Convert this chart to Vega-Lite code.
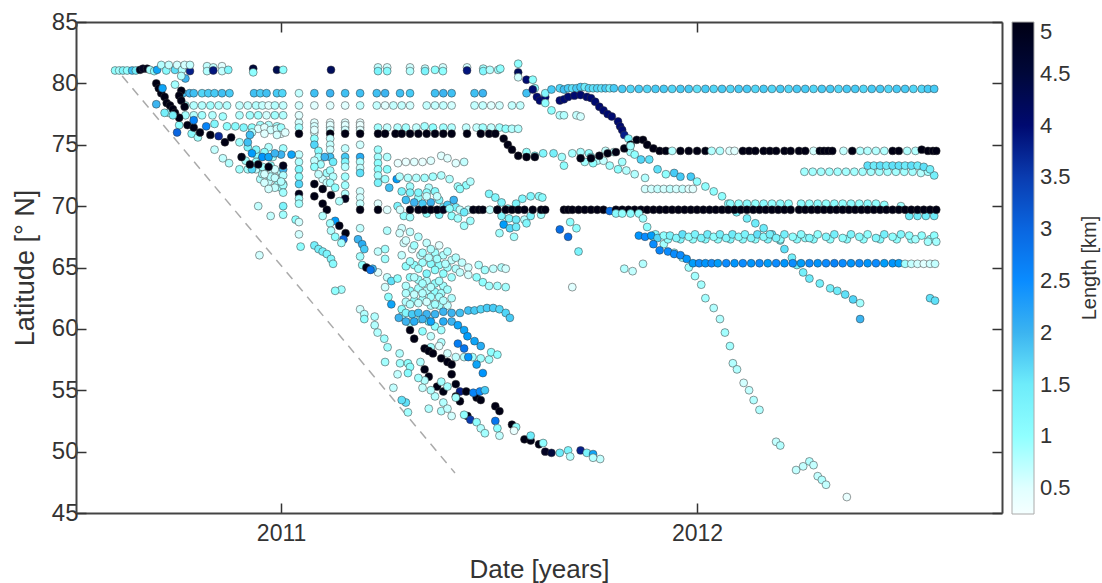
{"$schema":"https://vega.github.io/schema/vega-lite/v6.json","width":926,"height":491,"padding":{"left":76,"top":22,"right":100,"bottom":70},"autosize":{"type":"none"},"background":"white",
"config":{"view":{"stroke":null},"font":"Liberation Sans"},
"resolve":{"axis":{"x":"independent","y":"independent"}},
"layer":[
{"data":{"values":[{"t":2010.618,"lat":80.6},{"t":2011.418,"lat":48.26}]},"mark":{"type":"line","stroke":"#aaaaaa","strokeWidth":1.5,"strokeDash":[9,7]},
"encoding":{"x":{"field":"t","type":"quantitative","scale":{"domain":[2010.507,2012.733],"nice":false,"zero":false},"axis":{"orient":"bottom","values":[2011,2012],"format":"d","title":"Date [years]","titleFontSize":26,"titleFontWeight":"normal","titleColor":"#333","titlePadding":11,"labelFontSize":23,"labelColor":"#333","labelPadding":19,"tickSize":-10,"tickColor":"#333","tickWidth":1.5,"domainColor":"#444","domainWidth":2,"grid":false}},
"y":{"field":"lat","type":"quantitative","scale":{"domain":[45,85],"nice":false,"zero":false},"axis":{"orient":"left","values":[45,50,55,60,65,70,75,80,85],"title":"Latitude [° N]","titleFontSize":27,"titleFontWeight":"normal","titleColor":"#333","titlePadding":12,"labelFontSize":24,"labelColor":"#333","labelPadding":8,"tickSize":-10,"tickColor":"#333","tickWidth":1.5,"domainColor":"#444","domainWidth":2,"grid":false}}}},
{"data":{"values":[{"t":2011,"lat":45},{"t":2012,"lat":85}]},"mark":{"type":"point","opacity":0},
"encoding":{"x":{"field":"t","type":"quantitative","axis":{"orient":"top","values":[2011,2012],"labels":false,"title":null,"tickSize":-10,"tickColor":"#333","tickWidth":1.5,"domainColor":"#444","domainWidth":2,"grid":false}},
"y":{"field":"lat","type":"quantitative","axis":{"orient":"right","values":[45,50,55,60,65,70,75,80,85],"labels":false,"title":"Length [km]","titleAngle":-90,"titleFontSize":20,"titleFontWeight":"normal","titleColor":"#333","titlePadding":97,"tickSize":-10,"tickColor":"#333","tickWidth":1.5,"domainColor":"#444","domainWidth":2,"grid":false}}}},
{"data":{"values":[
{"t":2011.29,"lat":68.2,"len":0.6},{"t":2011.31,"lat":67.9,"len":0.7},{"t":2011.33,"lat":67.5,"len":0.8},{"t":2011.35,"lat":67.0,"len":0.7},{"t":2011.37,"lat":66.2,"len":0.9},{"t":2011.39,"lat":66.0,"len":0.8},{"t":2011.41,"lat":65.6,"len":0.7},{"t":2011.3,"lat":65.1,"len":1.0},{"t":2011.32,"lat":65.2,"len":1.0},{"t":2011.34,"lat":65.4,"len":0.9},{"t":2011.36,"lat":65.3,"len":1.1},{"t":2011.38,"lat":65.2,"len":1.0},{"t":2011.4,"lat":65.0,"len":0.9},{"t":2011.42,"lat":64.9,"len":0.8},{"t":2011.31,"lat":64.2,"len":1.0},{"t":2011.33,"lat":64.0,"len":0.9},{"t":2011.35,"lat":63.9,"len":0.8},{"t":2011.37,"lat":63.7,"len":1.0},{"t":2011.39,"lat":63.5,"len":0.9},{"t":2011.31,"lat":63.1,"len":1.0},{"t":2011.33,"lat":63.3,"len":0.9},{"t":2011.35,"lat":63.1,"len":0.8},{"t":2011.37,"lat":63.0,"len":1.0},{"t":2011.385,"lat":62.9,"len":0.9},{"t":2011.3,"lat":62.2,"len":0.8},{"t":2011.32,"lat":62.3,"len":1.0},{"t":2011.34,"lat":62.4,"len":0.9},{"t":2011.36,"lat":61.9,"len":0.8},{"t":2011.38,"lat":61.9,"len":0.9},{"t":2011.4,"lat":61.9,"len":0.7},{"t":2011.295,"lat":67.0,"len":0.6},{"t":2011.315,"lat":66.5,"len":0.5},{"t":2011.335,"lat":66.0,"len":0.7},{"t":2011.355,"lat":65.8,"len":0.8},{"t":2011.375,"lat":65.7,"len":0.9},{"t":2011.395,"lat":65.3,"len":0.8},{"t":2011.28,"lat":70.0,"len":1.3},{"t":2011.295,"lat":69.2,"len":1.0},{"t":2011.31,"lat":69.1,"len":0.9},{"t":2011.33,"lat":70.7,"len":1.0},{"t":2011.355,"lat":71.5,"len":0.8},{"t":2011.31,"lat":71.6,"len":0.9},{"t":2011.39,"lat":69.9,"len":1.3},{"t":2011.42,"lat":69.9,"len":1.4},{"t":2011.35,"lat":69.4,"len":1.0},{"t":2011.38,"lat":69.3,"len":1.2},{"t":2011.41,"lat":69.2,"len":1.0},
{"t":2011.043,"lat":76.8,"len":0.6},{"t":2011.08,"lat":76.8,"len":0.5},{"t":2011.118,"lat":76.8,"len":0.4},{"t":2011.154,"lat":76.8,"len":0.5},{"t":2011.19,"lat":76.8,"len":0.4},{"t":2011.08,"lat":76.0,"len":0.5},{"t":2011.118,"lat":76.4,"len":0.6},{"t":2011.154,"lat":76.4,"len":0.6},{"t":2011.19,"lat":76.4,"len":0.5},{"t":2010.95,"lat":76.6,"len":0.9},{"t":2010.97,"lat":76.6,"len":0.8},{"t":2010.99,"lat":76.5,"len":0.9},{"t":2011.0,"lat":75.9,"len":0.5},
{"t":2010.94,"lat":73.0,"len":0.7},{"t":2010.96,"lat":73.0,"len":0.9},{"t":2010.98,"lat":72.8,"len":0.7},{"t":2011.0,"lat":72.8,"len":0.8},{"t":2010.95,"lat":72.2,"len":0.8},{"t":2010.97,"lat":72.0,"len":0.7},{"t":2010.99,"lat":72.2,"len":0.6},{"t":2011.005,"lat":71.8,"len":0.8},{"t":2010.94,"lat":74.2,"len":1.0},{"t":2010.97,"lat":74.8,"len":0.8},{"t":2011.005,"lat":74.7,"len":0.9},{"t":2011.095,"lat":73.4,"len":0.9},{"t":2011.1,"lat":72.2,"len":0.6},{"t":2011.11,"lat":71.9,"len":0.7},{"t":2011.09,"lat":72.6,"len":0.7},
{"t":2010.601,"lat":81.05,"len":1.0},{"t":2010.611,"lat":81.05,"len":0.9},{"t":2010.62,"lat":81.05,"len":1.2},{"t":2010.63,"lat":81.05,"len":1.0},{"t":2010.642,"lat":81.05,"len":1.9},{"t":2010.651,"lat":81.05,"len":1.5},{"t":2010.661,"lat":81.1,"len":4.9},{"t":2010.668,"lat":81.2,"len":4.8},{"t":2010.678,"lat":81.2,"len":4.9},{"t":2010.685,"lat":81.1,"len":0.9},{"t":2010.695,"lat":81.0,"len":1.0},{"t":2010.702,"lat":81.1,"len":2.2},{"t":2010.712,"lat":81.5,"len":0.8},{"t":2010.724,"lat":81.05,"len":1.1},{"t":2010.73,"lat":81.5,"len":0.7},{"t":2010.745,"lat":81.1,"len":1.6},{"t":2010.75,"lat":81.5,"len":0.6},{"t":2010.762,"lat":81.1,"len":0.8},{"t":2010.768,"lat":81.5,"len":0.6},{"t":2010.781,"lat":81.0,"len":3.8},{"t":2010.781,"lat":81.5,"len":0.7},{"t":2010.77,"lat":80.4,"len":2.0},{"t":2010.76,"lat":80.6,"len":0.8},
{"t":2010.822,"lat":81.4,"len":0.7},{"t":2010.822,"lat":81.0,"len":0.8},{"t":2010.837,"lat":81.3,"len":0.7},{"t":2010.837,"lat":81.05,"len":3.9},{"t":2010.858,"lat":81.4,"len":0.5},{"t":2010.858,"lat":81.0,"len":0.7},{"t":2010.873,"lat":81.1,"len":1.2},{"t":2010.933,"lat":81.2,"len":4.5},{"t":2010.933,"lat":80.9,"len":1.0},{"t":2010.99,"lat":81.1,"len":4.3},{"t":2011.005,"lat":81.1,"len":1.0},{"t":2011.12,"lat":81.1,"len":4.2},{"t":2011.233,"lat":81.3,"len":0.7},{"t":2011.233,"lat":81.0,"len":1.3},{"t":2011.255,"lat":81.3,"len":0.6},{"t":2011.255,"lat":81.0,"len":1.1},{"t":2011.31,"lat":81.3,"len":0.6},{"t":2011.31,"lat":81.0,"len":0.8},{"t":2011.346,"lat":81.2,"len":0.7},{"t":2011.346,"lat":81.0,"len":1.3},{"t":2011.37,"lat":81.1,"len":1.0},{"t":2011.389,"lat":81.3,"len":0.6},{"t":2011.389,"lat":81.0,"len":1.0},{"t":2011.447,"lat":81.3,"len":0.6},{"t":2011.447,"lat":81.05,"len":3.9},{"t":2011.486,"lat":81.2,"len":0.9},{"t":2011.486,"lat":81.0,"len":1.2},{"t":2011.502,"lat":81.1,"len":0.8},{"t":2011.522,"lat":81.1,"len":0.9},{"t":2011.57,"lat":81.6,"len":1.0},{"t":2011.57,"lat":80.9,"len":4.2},{"t":2011.57,"lat":80.5,"len":0.6},{"t":2011.527,"lat":81.2,"len":1.0},
{"t":2010.764,"lat":79.2,"len":1.9},{"t":2010.78,"lat":79.2,"len":2.0},{"t":2010.79,"lat":79.2,"len":1.9},{"t":2010.81,"lat":79.2,"len":1.7},{"t":2010.825,"lat":79.2,"len":1.8},{"t":2010.84,"lat":79.2,"len":1.8},{"t":2010.858,"lat":79.2,"len":1.9},{"t":2010.876,"lat":79.2,"len":1.8},{"t":2010.935,"lat":79.2,"len":1.9},{"t":2010.95,"lat":79.2,"len":1.8},{"t":2010.965,"lat":79.2,"len":1.9},{"t":2010.99,"lat":79.2,"len":1.8},{"t":2011.003,"lat":79.2,"len":1.7},{"t":2011.043,"lat":79.2,"len":0.7},{"t":2011.08,"lat":79.2,"len":1.9},{"t":2011.118,"lat":79.2,"len":2.0},{"t":2011.154,"lat":79.2,"len":1.9},{"t":2011.19,"lat":79.2,"len":1.9},{"t":2011.23,"lat":79.2,"len":1.9},{"t":2011.25,"lat":79.2,"len":2.0},{"t":2011.286,"lat":79.2,"len":1.9},{"t":2011.31,"lat":79.2,"len":1.8},{"t":2011.37,"lat":79.2,"len":1.9},{"t":2011.39,"lat":79.2,"len":2.0},{"t":2011.41,"lat":79.2,"len":1.9},{"t":2011.465,"lat":79.2,"len":1.9},{"t":2011.485,"lat":79.2,"len":2.0},
{"t":2010.77,"lat":78.2,"len":0.9},{"t":2010.79,"lat":78.2,"len":0.8},{"t":2010.81,"lat":78.2,"len":0.8},{"t":2010.83,"lat":78.2,"len":0.9},{"t":2010.85,"lat":78.2,"len":0.8},{"t":2010.87,"lat":78.2,"len":0.8},{"t":2010.9,"lat":78.2,"len":0.7},{"t":2010.92,"lat":78.2,"len":0.7},{"t":2010.94,"lat":78.2,"len":0.8},{"t":2010.955,"lat":78.2,"len":0.7},{"t":2010.97,"lat":78.2,"len":0.5},{"t":2010.985,"lat":78.2,"len":0.8},{"t":2011.005,"lat":78.2,"len":0.7},{"t":2011.043,"lat":78.2,"len":0.6},{"t":2011.08,"lat":78.2,"len":0.5},{"t":2011.118,"lat":78.2,"len":0.5},{"t":2011.154,"lat":78.2,"len":0.5},{"t":2011.19,"lat":78.2,"len":0.7},{"t":2011.23,"lat":78.2,"len":0.7},{"t":2011.25,"lat":78.2,"len":0.5},{"t":2011.27,"lat":78.2,"len":0.7},{"t":2011.29,"lat":78.2,"len":0.7},{"t":2011.31,"lat":78.2,"len":0.6},{"t":2011.35,"lat":78.2,"len":0.7},{"t":2011.37,"lat":78.2,"len":0.7},{"t":2011.39,"lat":78.2,"len":0.7},{"t":2011.41,"lat":78.2,"len":0.6},{"t":2011.465,"lat":78.2,"len":0.7},{"t":2011.485,"lat":78.2,"len":0.7},{"t":2011.505,"lat":78.2,"len":0.5},{"t":2011.525,"lat":78.2,"len":0.6},{"t":2011.555,"lat":78.2,"len":0.7},{"t":2011.575,"lat":78.2,"len":0.7},
{"t":2010.77,"lat":77.4,"len":0.9},{"t":2010.79,"lat":77.4,"len":0.8},{"t":2010.81,"lat":77.4,"len":0.9},{"t":2010.835,"lat":77.4,"len":0.8},{"t":2010.86,"lat":77.3,"len":0.9},{"t":2010.9,"lat":77.4,"len":0.8},{"t":2010.925,"lat":77.4,"len":0.9},{"t":2010.945,"lat":77.4,"len":0.9},{"t":2010.965,"lat":77.4,"len":0.6},{"t":2010.985,"lat":77.4,"len":0.9},{"t":2011.005,"lat":77.4,"len":0.8},{"t":2011.043,"lat":77.4,"len":0.5},
{"t":2010.84,"lat":76.7,"len":1.2},{"t":2010.87,"lat":76.5,"len":1.0},{"t":2010.89,"lat":76.5,"len":1.1},{"t":2010.91,"lat":76.4,"len":1.2},{"t":2010.93,"lat":76.4,"len":1.0},{"t":2010.945,"lat":76.3,"len":0.5},{"t":2010.96,"lat":76.4,"len":0.5},{"t":2010.975,"lat":76.2,"len":0.6},{"t":2010.99,"lat":76.3,"len":0.6},{"t":2011.0,"lat":76.4,"len":0.9},{"t":2011.01,"lat":76.0,"len":0.5},{"t":2010.93,"lat":76.0,"len":0.8},{"t":2010.96,"lat":75.9,"len":0.5},{"t":2010.99,"lat":75.8,"len":0.6},{"t":2011.043,"lat":76.4,"len":0.9},{"t":2011.08,"lat":76.5,"len":0.6},{"t":2011.08,"lat":76.2,"len":0.5},{"t":2011.118,"lat":76.6,"len":0.5},{"t":2011.118,"lat":76.2,"len":0.6},{"t":2011.154,"lat":76.6,"len":0.5},{"t":2011.154,"lat":76.2,"len":0.6},{"t":2011.19,"lat":76.6,"len":0.4},{"t":2011.19,"lat":76.2,"len":0.5},{"t":2011.233,"lat":76.4,"len":0.9},{"t":2011.255,"lat":76.4,"len":0.7},{"t":2011.28,"lat":76.4,"len":0.8},{"t":2011.3,"lat":76.4,"len":0.9},{"t":2011.325,"lat":76.4,"len":0.7},{"t":2011.345,"lat":76.5,"len":0.9},{"t":2011.365,"lat":76.4,"len":1.0},{"t":2011.39,"lat":76.4,"len":0.9},{"t":2011.41,"lat":76.4,"len":0.8},{"t":2011.445,"lat":76.4,"len":0.7},{"t":2011.47,"lat":76.4,"len":0.7},{"t":2011.485,"lat":76.4,"len":0.9},{"t":2011.505,"lat":76.4,"len":0.7},{"t":2011.525,"lat":76.4,"len":0.9},{"t":2011.54,"lat":76.3,"len":1.0},{"t":2011.555,"lat":76.3,"len":0.8},{"t":2011.57,"lat":76.3,"len":0.8},
{"t":2010.73,"lat":77.6,"len":0.9},{"t":2010.755,"lat":76.6,"len":1.0},{"t":2010.785,"lat":75.9,"len":1.1},{"t":2010.8,"lat":75.6,"len":0.9},{"t":2010.84,"lat":74.6,"len":0.7},{"t":2010.86,"lat":73.9,"len":0.7},{"t":2010.875,"lat":73.5,"len":0.8},{"t":2010.9,"lat":73.0,"len":0.9},{"t":2010.92,"lat":73.0,"len":0.9},{"t":2010.915,"lat":73.7,"len":0.9},{"t":2010.94,"lat":73.6,"len":1.0},{"t":2010.93,"lat":73.0,"len":1.7},{"t":2010.955,"lat":72.6,"len":0.9},{"t":2010.975,"lat":72.4,"len":0.8},{"t":2010.99,"lat":71.7,"len":0.9},{"t":2011.0,"lat":71.5,"len":0.9},{"t":2011.005,"lat":71.7,"len":0.9},
{"t":2010.945,"lat":70.0,"len":0.7},{"t":2010.975,"lat":69.2,"len":0.7},{"t":2011.005,"lat":70.0,"len":1.3},{"t":2011.005,"lat":69.3,"len":0.9},{"t":2011.035,"lat":68.9,"len":1.0},{"t":2011.043,"lat":68.7,"len":0.6},{"t":2011.043,"lat":67.7,"len":0.6},
{"t":2010.9,"lat":75.2,"len":0.9},{"t":2010.92,"lat":74.8,"len":1.3},{"t":2010.94,"lat":74.6,"len":1.2},{"t":2010.96,"lat":74.4,"len":1.1},{"t":2010.98,"lat":74.0,"len":0.9},{"t":2011.0,"lat":74.2,"len":2.0},{"t":2010.93,"lat":74.3,"len":2.3},{"t":2010.955,"lat":74.0,"len":2.4},{"t":2010.97,"lat":74.0,"len":2.2},{"t":2010.985,"lat":74.3,"len":2.0},{"t":2010.955,"lat":73.2,"len":0.9},{"t":2010.975,"lat":73.3,"len":1.0},{"t":2010.985,"lat":73.0,"len":0.6},{"t":2011.005,"lat":73.0,"len":2.0},{"t":2010.96,"lat":72.6,"len":0.6},{"t":2010.985,"lat":72.3,"len":0.7},{"t":2011.005,"lat":72.5,"len":0.8},{"t":2010.96,"lat":71.9,"len":0.6},{"t":2010.985,"lat":71.5,"len":0.7},{"t":2011.005,"lat":71.1,"len":0.9},{"t":2010.97,"lat":71.4,"len":0.6},{"t":2011.0,"lat":72.0,"len":0.8},
{"t":2011.043,"lat":75.9,"len":5},{"t":2011.118,"lat":75.9,"len":5},{"t":2011.154,"lat":75.9,"len":5},{"t":2011.19,"lat":75.9,"len":5},{"t":2011.233,"lat":75.9,"len":5},{"t":2011.25,"lat":75.9,"len":5},{"t":2011.275,"lat":75.9,"len":5},{"t":2011.29,"lat":75.9,"len":5},{"t":2011.31,"lat":75.9,"len":5},{"t":2011.33,"lat":75.9,"len":5},{"t":2011.35,"lat":75.9,"len":5},{"t":2011.37,"lat":75.9,"len":5},{"t":2011.39,"lat":75.9,"len":5},{"t":2011.41,"lat":75.9,"len":5},{"t":2011.447,"lat":75.9,"len":5},{"t":2011.48,"lat":75.9,"len":5},{"t":2011.5,"lat":75.9,"len":5},{"t":2011.515,"lat":75.9,"len":5},
{"t":2011.043,"lat":74.2,"len":0.7},{"t":2011.043,"lat":73.6,"len":0.8},{"t":2011.043,"lat":73.0,"len":1.2},{"t":2011.043,"lat":72.4,"len":1.0},{"t":2011.043,"lat":71.8,"len":1.7},{"t":2011.043,"lat":71.0,"len":4.9},{"t":2011.043,"lat":70.6,"len":0.9},{"t":2011.043,"lat":70.2,"len":0.9},
{"t":2011.08,"lat":75.5,"len":1.0},{"t":2011.08,"lat":75.0,"len":1.7},{"t":2011.09,"lat":74.5,"len":1.1},{"t":2011.09,"lat":74.0,"len":0.9},{"t":2011.08,"lat":73.7,"len":0.7},{"t":2011.08,"lat":73.2,"len":1.0},{"t":2011.11,"lat":72.7,"len":0.9},
{"t":2011.118,"lat":75.5,"len":0.7},{"t":2011.118,"lat":75.0,"len":0.7},{"t":2011.118,"lat":74.6,"len":0.6},{"t":2011.118,"lat":74.0,"len":1.9},{"t":2011.125,"lat":73.6,"len":1.5},{"t":2011.105,"lat":74.0,"len":2.0},{"t":2011.118,"lat":72.9,"len":0.9},{"t":2011.125,"lat":72.4,"len":0.8},{"t":2011.118,"lat":71.9,"len":0.9},{"t":2011.13,"lat":71.5,"len":1.0},
{"t":2011.154,"lat":74.7,"len":0.7},{"t":2011.154,"lat":74.0,"len":1.8},{"t":2011.154,"lat":73.6,"len":1.2},{"t":2011.154,"lat":73.2,"len":0.8},{"t":2011.154,"lat":72.4,"len":0.9},{"t":2011.154,"lat":71.7,"len":0.9},{"t":2011.154,"lat":71.0,"len":0.8},{"t":2011.154,"lat":70.6,"len":4.9},{"t":2011.14,"lat":70.4,"len":0.8},
{"t":2011.19,"lat":75.0,"len":0.6},{"t":2011.19,"lat":74.0,"len":2.1},{"t":2011.19,"lat":73.6,"len":0.8},{"t":2011.19,"lat":73.1,"len":0.7},{"t":2011.19,"lat":72.7,"len":1.6},{"t":2011.19,"lat":71.2,"len":0.6},{"t":2011.19,"lat":70.7,"len":0.6},{"t":2011.19,"lat":70.2,"len":0.7},{"t":2011.19,"lat":69.7,"len":5},{"t":2011.19,"lat":68.2,"len":0.7},
{"t":2011.233,"lat":74.6,"len":0.9},{"t":2011.233,"lat":74.0,"len":0.9},{"t":2011.233,"lat":73.5,"len":1.0},{"t":2011.233,"lat":73.0,"len":1.0},{"t":2011.233,"lat":72.5,"len":0.9},{"t":2011.233,"lat":71.9,"len":1.3},{"t":2011.233,"lat":70.2,"len":0.5},{"t":2011.233,"lat":69.7,"len":5},{"t":2011.255,"lat":74.0,"len":0.8},{"t":2011.255,"lat":73.0,"len":1.0},{"t":2011.25,"lat":72.2,"len":0.9},{"t":2011.26,"lat":71.5,"len":1.9},{"t":2011.255,"lat":69.7,"len":0.5},{"t":2011.255,"lat":68.0,"len":0.8},{"t":2011.278,"lat":72.2,"len":2.3},
{"t":2011.281,"lat":73.5,"len":0.4},{"t":2011.3,"lat":73.6,"len":0.4},{"t":2011.32,"lat":73.6,"len":0.5},{"t":2011.34,"lat":73.6,"len":0.4},{"t":2011.36,"lat":73.7,"len":0.5},{"t":2011.385,"lat":74.1,"len":0.5},{"t":2011.4,"lat":73.9,"len":0.5},{"t":2011.42,"lat":73.5,"len":0.5},{"t":2011.44,"lat":73.6,"len":0.7},
{"t":2011.285,"lat":72.4,"len":0.8},{"t":2011.305,"lat":72.3,"len":0.8},{"t":2011.325,"lat":72.3,"len":0.8},{"t":2011.345,"lat":72.3,"len":0.9},{"t":2011.365,"lat":72.4,"len":0.9},{"t":2011.385,"lat":72.5,"len":0.8},{"t":2011.405,"lat":72.2,"len":0.8},{"t":2011.425,"lat":71.6,"len":0.9},{"t":2011.445,"lat":71.7,"len":1.0},{"t":2011.455,"lat":72.0,"len":0.8},{"t":2011.43,"lat":71.4,"len":1.0},
{"t":2011.29,"lat":71.2,"len":1.3},{"t":2011.31,"lat":71.1,"len":1.3},{"t":2011.33,"lat":71.1,"len":1.2},{"t":2011.35,"lat":71.1,"len":1.0},{"t":2011.37,"lat":71.2,"len":1.1},{"t":2011.3,"lat":70.5,"len":1.9},{"t":2011.32,"lat":70.3,"len":2.0},{"t":2011.34,"lat":70.2,"len":1.8},{"t":2011.36,"lat":70.3,"len":2.0},{"t":2011.38,"lat":70.5,"len":1.2},{"t":2011.4,"lat":70.1,"len":1.8},{"t":2011.415,"lat":70.5,"len":2.0},{"t":2011.35,"lat":70.8,"len":0.7},{"t":2011.375,"lat":70.8,"len":0.7},
{"t":2011.286,"lat":69.7,"len":0.6},{"t":2011.31,"lat":69.7,"len":5},{"t":2011.33,"lat":69.7,"len":5},{"t":2011.345,"lat":69.7,"len":5},{"t":2011.36,"lat":69.7,"len":5},{"t":2011.375,"lat":69.7,"len":5},{"t":2011.39,"lat":69.7,"len":4.9},{"t":2011.405,"lat":69.8,"len":1.0},{"t":2011.43,"lat":69.7,"len":0.7},{"t":2011.45,"lat":69.7,"len":0.7},{"t":2011.462,"lat":69.7,"len":5},{"t":2011.475,"lat":69.7,"len":5},{"t":2011.485,"lat":69.7,"len":5},{"t":2011.52,"lat":69.7,"len":5},{"t":2011.502,"lat":69.7,"len":0.7},{"t":2011.425,"lat":69.0,"len":0.9},{"t":2011.44,"lat":68.4,"len":0.9},{"t":2011.455,"lat":68.8,"len":0.9},{"t":2011.44,"lat":69.5,"len":1.5},
{"t":2011.285,"lat":67.8,"len":0.6},{"t":2011.3,"lat":67.2,"len":0.6},{"t":2011.32,"lat":66.8,"len":0.9},{"t":2011.34,"lat":66.2,"len":0.9},{"t":2011.36,"lat":66.5,"len":0.8},{"t":2011.38,"lat":66.8,"len":0.5},{"t":2011.4,"lat":66.3,"len":0.8},{"t":2011.42,"lat":65.8,"len":0.8},{"t":2011.435,"lat":65.4,"len":0.7},{"t":2011.45,"lat":65.0,"len":0.6},{"t":2011.29,"lat":66.0,"len":0.7},{"t":2011.31,"lat":65.5,"len":0.9},{"t":2011.33,"lat":64.9,"len":0.9},{"t":2011.35,"lat":64.5,"len":1.2},{"t":2011.37,"lat":64.8,"len":1.0},{"t":2011.39,"lat":64.5,"len":1.0},{"t":2011.41,"lat":64.2,"len":0.9},{"t":2011.43,"lat":64.6,"len":0.7},{"t":2011.45,"lat":64.4,"len":0.6},{"t":2011.3,"lat":63.5,"len":0.8},{"t":2011.32,"lat":64.2,"len":0.8},{"t":2011.34,"lat":63.7,"len":0.9},{"t":2011.36,"lat":63.4,"len":0.8},{"t":2011.38,"lat":63.9,"len":0.9},{"t":2011.3,"lat":62.9,"len":0.8},{"t":2011.32,"lat":62.8,"len":0.7},{"t":2011.34,"lat":62.9,"len":0.8},{"t":2011.36,"lat":62.6,"len":0.9},{"t":2011.38,"lat":62.6,"len":0.9},{"t":2011.4,"lat":63.2,"len":0.9},{"t":2011.41,"lat":62.5,"len":0.8},{"t":2011.31,"lat":62.0,"len":0.8},{"t":2011.33,"lat":62.1,"len":0.7},{"t":2011.35,"lat":62.2,"len":0.6},{"t":2011.37,"lat":62.0,"len":0.9},{"t":2011.39,"lat":62.3,"len":0.8},
{"t":2011.475,"lat":65.2,"len":0.8},{"t":2011.49,"lat":64.8,"len":0.9},{"t":2011.51,"lat":64.9,"len":0.7},{"t":2011.53,"lat":65.0,"len":0.8},{"t":2011.54,"lat":64.9,"len":0.6},{"t":2011.47,"lat":64.2,"len":1.0},{"t":2011.485,"lat":63.8,"len":1.0},{"t":2011.5,"lat":63.5,"len":0.9},{"t":2011.52,"lat":63.5,"len":0.9},{"t":2011.54,"lat":63.4,"len":0.9},
{"t":2011.5,"lat":71.0,"len":1.2},{"t":2011.515,"lat":70.7,"len":1.2},{"t":2011.53,"lat":70.3,"len":1.3},{"t":2011.545,"lat":69.8,"len":1.1},{"t":2011.565,"lat":70.2,"len":1.3},{"t":2011.58,"lat":70.6,"len":1.2},{"t":2011.6,"lat":70.8,"len":1.2},{"t":2011.62,"lat":70.8,"len":1.0},{"t":2011.628,"lat":70.7,"len":1.1},{"t":2011.53,"lat":69.2,"len":1.2},{"t":2011.548,"lat":69.0,"len":1.2},{"t":2011.565,"lat":68.9,"len":1.5},{"t":2011.535,"lat":68.5,"len":2.3},{"t":2011.55,"lat":68.2,"len":1.7},{"t":2011.565,"lat":68.3,"len":1.5},{"t":2011.525,"lat":67.8,"len":0.9},{"t":2011.56,"lat":67.5,"len":0.9},{"t":2011.585,"lat":68.9,"len":0.8},{"t":2011.6,"lat":69.2,"len":1.3},{"t":2011.625,"lat":69.3,"len":0.9},{"t":2011.59,"lat":68.6,"len":1.2},
{"t":2011.52,"lat":69.7,"len":5},{"t":2011.54,"lat":69.7,"len":5},{"t":2011.555,"lat":69.7,"len":5},{"t":2011.57,"lat":69.7,"len":5},{"t":2011.585,"lat":69.7,"len":5},{"t":2011.605,"lat":69.7,"len":5},{"t":2011.625,"lat":69.7,"len":5},{"t":2011.635,"lat":69.7,"len":5},
{"t":2011.047,"lat":66.7,"len":1.0},{"t":2011.08,"lat":66.8,"len":1.4},{"t":2011.09,"lat":66.5,"len":1.4},{"t":2011.1,"lat":66.3,"len":1.4},{"t":2011.11,"lat":66.1,"len":1.3},{"t":2011.12,"lat":65.7,"len":1.2},{"t":2011.125,"lat":65.3,"len":1.1},{"t":2010.948,"lat":66.0,"len":0.6},{"t":2011.145,"lat":63.2,"len":0.9},
{"t":2011.185,"lat":67.3,"len":2.0},{"t":2011.195,"lat":66.9,"len":2.1},{"t":2011.19,"lat":65.9,"len":0.9},{"t":2011.2,"lat":66.5,"len":1.8},{"t":2011.195,"lat":65.2,"len":1.0},{"t":2011.233,"lat":66.3,"len":0.7},{"t":2011.25,"lat":66.5,"len":0.9},{"t":2011.25,"lat":65.7,"len":0.9},{"t":2011.233,"lat":64.6,"len":0.5},{"t":2011.255,"lat":64.2,"len":0.7},{"t":2011.25,"lat":63.4,"len":0.6},{"t":2011.265,"lat":63.9,"len":1.6},{"t":2011.28,"lat":64.1,"len":1.0},{"t":2011.258,"lat":62.6,"len":1.0},{"t":2011.265,"lat":62.0,"len":2.2},{"t":2011.29,"lat":61.6,"len":1.0},{"t":2011.22,"lat":64.9,"len":2.0},
{"t":2011.19,"lat":61.6,"len":0.6},{"t":2011.2,"lat":61.2,"len":0.8},{"t":2011.2,"lat":60.8,"len":1.0},{"t":2011.13,"lat":63.1,"len":1.0},{"t":2011.225,"lat":61.0,"len":0.8},{"t":2011.225,"lat":60.3,"len":0.8},{"t":2011.232,"lat":59.7,"len":0.8},{"t":2011.248,"lat":59.2,"len":0.9},{"t":2011.256,"lat":58.5,"len":0.9},{"t":2011.25,"lat":57.3,"len":0.9},{"t":2011.285,"lat":58.0,"len":0.8},{"t":2011.286,"lat":57.2,"len":0.9},{"t":2011.305,"lat":57.2,"len":1.0},{"t":2011.31,"lat":56.9,"len":1.0},{"t":2011.305,"lat":56.4,"len":1.1},{"t":2011.335,"lat":57.3,"len":0.8},
{"t":2011.29,"lat":61.0,"len":0.8},{"t":2011.31,"lat":60.5,"len":0.9},{"t":2011.335,"lat":60.8,"len":1.0},{"t":2011.355,"lat":60.6,"len":1.3},{"t":2011.37,"lat":60.2,"len":1.0},{"t":2011.385,"lat":59.9,"len":0.9},{"t":2011.34,"lat":59.8,"len":1.0},{"t":2011.36,"lat":59.4,"len":0.7},{"t":2011.385,"lat":58.9,"len":0.8},{"t":2011.36,"lat":58.5,"len":0.9},{"t":2011.38,"lat":58.6,"len":0.5},{"t":2011.4,"lat":58.0,"len":0.6},{"t":2011.42,"lat":57.7,"len":0.7},{"t":2011.44,"lat":57.7,"len":0.8},{"t":2011.46,"lat":57.7,"len":0.9},{"t":2011.48,"lat":57.6,"len":0.9},{"t":2011.5,"lat":57.5,"len":0.9},
{"t":2011.3,"lat":61.3,"len":1.2},{"t":2011.315,"lat":61.2,"len":1.8},{"t":2011.33,"lat":61.3,"len":1.9},{"t":2011.35,"lat":61.2,"len":2.0},{"t":2011.37,"lat":61.2,"len":2.0},{"t":2011.39,"lat":61.4,"len":2.0},{"t":2011.41,"lat":61.3,"len":2.0},{"t":2011.43,"lat":61.3,"len":1.9},{"t":2011.45,"lat":61.5,"len":1.9},{"t":2011.465,"lat":61.5,"len":1.8},{"t":2011.48,"lat":61.6,"len":1.7},{"t":2011.495,"lat":61.7,"len":1.8},{"t":2011.51,"lat":61.7,"len":1.8},{"t":2011.525,"lat":61.6,"len":1.7},{"t":2011.54,"lat":61.3,"len":1.7},{"t":2011.55,"lat":60.9,"len":1.8},
{"t":2011.283,"lat":60.9,"len":2.0},{"t":2011.3,"lat":60.6,"len":2.0},{"t":2011.32,"lat":60.6,"len":2.1},{"t":2011.34,"lat":60.8,"len":2.0},{"t":2011.36,"lat":60.6,"len":2.2},{"t":2011.39,"lat":60.6,"len":2.1},{"t":2011.41,"lat":60.6,"len":2.0},{"t":2011.425,"lat":60.3,"len":2.2},{"t":2011.44,"lat":59.9,"len":2.2},{"t":2011.448,"lat":59.4,"len":2.3},{"t":2011.465,"lat":59.0,"len":2.2},{"t":2011.48,"lat":58.6,"len":2.1},{"t":2011.425,"lat":58.8,"len":2.7},{"t":2011.44,"lat":58.4,"len":2.8},{"t":2011.45,"lat":57.7,"len":2.4},{"t":2011.47,"lat":57.1,"len":2.2},{"t":2011.485,"lat":56.4,"len":2.4},{"t":2011.505,"lat":58.1,"len":1.0},{"t":2011.52,"lat":57.9,"len":1.0},
{"t":2011.31,"lat":59.9,"len":5},{"t":2011.32,"lat":59.2,"len":5},{"t":2011.345,"lat":58.4,"len":5},{"t":2011.355,"lat":58.2,"len":5},{"t":2011.365,"lat":58.0,"len":5},{"t":2011.385,"lat":57.6,"len":5},{"t":2011.4,"lat":57.3,"len":5},{"t":2011.41,"lat":57.1,"len":5},{"t":2011.41,"lat":56.3,"len":5},{"t":2011.42,"lat":55.5,"len":5},{"t":2011.43,"lat":54.9,"len":3.8},{"t":2011.445,"lat":54.9,"len":5},{"t":2011.47,"lat":54.4,"len":5},{"t":2011.48,"lat":54.2,"len":5},{"t":2011.515,"lat":53.7,"len":5},{"t":2011.525,"lat":53.3,"len":5},{"t":2011.555,"lat":52.2,"len":5},{"t":2011.585,"lat":51.0,"len":5},{"t":2011.6,"lat":50.9,"len":5},{"t":2011.62,"lat":50.6,"len":5},{"t":2011.635,"lat":50.0,"len":4.8},{"t":2011.65,"lat":49.9,"len":4.5},
{"t":2011.345,"lat":56.7,"len":5},{"t":2011.355,"lat":56.1,"len":5},{"t":2011.375,"lat":55.3,"len":5},{"t":2011.39,"lat":54.9,"len":5},{"t":2011.42,"lat":54.5,"len":5},{"t":2011.43,"lat":54.1,"len":5},{"t":2011.448,"lat":52.9,"len":5},{"t":2011.455,"lat":52.6,"len":3.5},{"t":2011.462,"lat":54.8,"len":2.6},{"t":2011.478,"lat":54.9,"len":2.5},{"t":2011.49,"lat":55.0,"len":1.8},{"t":2011.515,"lat":52.5,"len":2.8},
{"t":2011.47,"lat":52.4,"len":1.0},{"t":2011.48,"lat":51.9,"len":0.8},{"t":2011.49,"lat":51.5,"len":0.9},{"t":2011.52,"lat":51.9,"len":1.0},{"t":2011.525,"lat":51.3,"len":0.7},{"t":2011.565,"lat":52.0,"len":1.0},{"t":2011.56,"lat":51.7,"len":0.4},{"t":2011.6,"lat":51.3,"len":1.5},{"t":2011.63,"lat":50.7,"len":1.0},
{"t":2011.67,"lat":49.9,"len":1.5},{"t":2011.69,"lat":50.1,"len":1.3},{"t":2011.695,"lat":49.6,"len":0.8},{"t":2011.72,"lat":50.1,"len":3.8},{"t":2011.735,"lat":49.9,"len":1.3},{"t":2011.75,"lat":49.8,"len":2.2},{"t":2011.767,"lat":49.4,"len":0.7},{"t":2011.75,"lat":49.5,"len":0.8},
{"t":2011.385,"lat":55.7,"len":0.9},{"t":2011.4,"lat":55.3,"len":0.9},{"t":2011.42,"lat":54.4,"len":0.9},{"t":2011.37,"lat":54.5,"len":0.8},{"t":2011.345,"lat":55.8,"len":0.8},{"t":2011.36,"lat":55.0,"len":0.8},{"t":2011.34,"lat":55.2,"len":0.7},{"t":2011.39,"lat":54.0,"len":0.8},{"t":2011.385,"lat":53.3,"len":0.8},{"t":2011.4,"lat":53.5,"len":0.7},{"t":2011.41,"lat":52.9,"len":0.6},{"t":2011.44,"lat":53.0,"len":1.0},{"t":2011.355,"lat":53.5,"len":0.8},{"t":2011.3,"lat":54.0,"len":1.6},{"t":2011.29,"lat":54.2,"len":1.6},{"t":2011.305,"lat":53.2,"len":0.9},{"t":2011.33,"lat":56.0,"len":0.9},{"t":2011.28,"lat":56.3,"len":0.7},{"t":2011.27,"lat":55.2,"len":0.7},
{"t":2011.67,"lat":79.6,"len":1.7},{"t":2011.68,"lat":79.5,"len":1.9},{"t":2011.69,"lat":79.6,"len":1.8},{"t":2011.7,"lat":79.6,"len":1.6},{"t":2011.71,"lat":79.6,"len":1.8},{"t":2011.72,"lat":79.7,"len":1.8},{"t":2011.73,"lat":79.7,"len":1.5},{"t":2011.74,"lat":79.6,"len":1.7},{"t":2011.75,"lat":79.6,"len":1.6},{"t":2011.76,"lat":79.6,"len":1.7},{"t":2011.77,"lat":79.6,"len":1.6},{"t":2011.78,"lat":79.6,"len":1.8},{"t":2011.79,"lat":79.6,"len":1.5},{"t":2011.8,"lat":79.6,"len":1.8},{"t":2011.82,"lat":79.55,"len":1.8},{"t":2011.84,"lat":79.55,"len":1.7},{"t":2011.86,"lat":79.55,"len":1.8},{"t":2011.88,"lat":79.55,"len":1.7},{"t":2011.9,"lat":79.55,"len":1.8},{"t":2011.92,"lat":79.55,"len":1.8},{"t":2011.94,"lat":79.55,"len":1.7},{"t":2011.96,"lat":79.55,"len":1.8},{"t":2011.98,"lat":79.55,"len":1.8},{"t":2012.0,"lat":79.55,"len":1.6},{"t":2012.02,"lat":79.55,"len":1.8},{"t":2012.04,"lat":79.55,"len":1.7},{"t":2012.06,"lat":79.55,"len":1.8},{"t":2012.08,"lat":79.55,"len":1.7},{"t":2012.1,"lat":79.55,"len":1.8},{"t":2012.12,"lat":79.55,"len":1.8},{"t":2012.14,"lat":79.55,"len":1.7},{"t":2012.16,"lat":79.55,"len":1.8},{"t":2012.18,"lat":79.55,"len":1.7},{"t":2012.2,"lat":79.55,"len":1.8},{"t":2012.22,"lat":79.55,"len":1.7},{"t":2012.24,"lat":79.55,"len":1.8},{"t":2012.26,"lat":79.55,"len":1.8},{"t":2012.28,"lat":79.55,"len":1.7},{"t":2012.3,"lat":79.55,"len":1.8},{"t":2012.32,"lat":79.55,"len":1.8},{"t":2012.34,"lat":79.55,"len":1.7},{"t":2012.36,"lat":79.55,"len":1.8},{"t":2012.38,"lat":79.55,"len":1.8},{"t":2012.4,"lat":79.55,"len":1.7},{"t":2012.42,"lat":79.55,"len":1.8},{"t":2012.44,"lat":79.55,"len":1.8},{"t":2012.46,"lat":79.55,"len":1.7},{"t":2012.48,"lat":79.55,"len":1.8},{"t":2012.5,"lat":79.55,"len":1.8},{"t":2012.52,"lat":79.55,"len":1.7},{"t":2012.54,"lat":79.55,"len":1.7},{"t":2012.555,"lat":79.55,"len":1.8},{"t":2012.57,"lat":79.55,"len":1.8},
{"t":2011.59,"lat":80.3,"len":4.0},{"t":2011.605,"lat":80.3,"len":1.0},{"t":2011.59,"lat":79.2,"len":1.9},{"t":2011.61,"lat":79.6,"len":1.0},{"t":2011.605,"lat":79.5,"len":4.0},{"t":2011.615,"lat":78.9,"len":4.0},{"t":2011.622,"lat":78.6,"len":4.0},{"t":2011.635,"lat":78.9,"len":4.0},{"t":2011.635,"lat":79.2,"len":1.2},{"t":2011.65,"lat":79.5,"len":1.8},{"t":2011.635,"lat":78.4,"len":1.0},{"t":2011.65,"lat":77.8,"len":1.0},{"t":2011.67,"lat":77.4,"len":0.8},{"t":2011.68,"lat":77.4,"len":0.8},{"t":2011.71,"lat":77.4,"len":0.7},{"t":2011.72,"lat":77.3,"len":0.6},
{"t":2011.67,"lat":78.6,"len":4.0},{"t":2011.68,"lat":78.7,"len":4.0},{"t":2011.69,"lat":78.9,"len":4.0},{"t":2011.705,"lat":79.0,"len":4.0},{"t":2011.72,"lat":79.05,"len":4.0},{"t":2011.735,"lat":78.9,"len":4.0},{"t":2011.745,"lat":78.8,"len":4.0},{"t":2011.755,"lat":78.5,"len":4.0},{"t":2011.765,"lat":78.1,"len":4.0},{"t":2011.775,"lat":77.8,"len":4.0},{"t":2011.785,"lat":77.5,"len":4.0},{"t":2011.795,"lat":77.3,"len":4.0},{"t":2011.81,"lat":76.9,"len":4.0},{"t":2011.815,"lat":76.5,"len":4.0},{"t":2011.82,"lat":76.2,"len":4.0},{"t":2011.825,"lat":75.8,"len":3.8},{"t":2011.835,"lat":75.5,"len":1.3},
{"t":2011.59,"lat":74.4,"len":1.0},{"t":2011.61,"lat":74.1,"len":1.3},{"t":2011.63,"lat":74.3,"len":1.2},{"t":2011.655,"lat":74.3,"len":1.4},{"t":2011.675,"lat":74.0,"len":0.9},{"t":2011.7,"lat":74.3,"len":0.9},{"t":2011.72,"lat":74.4,"len":0.9},{"t":2011.74,"lat":74.3,"len":1.0},{"t":2011.76,"lat":73.7,"len":0.8},{"t":2011.78,"lat":74.5,"len":0.7},{"t":2011.8,"lat":74.4,"len":0.8},{"t":2011.68,"lat":73.3,"len":1.0},{"t":2011.73,"lat":73.6,"len":0.9},{"t":2011.75,"lat":73.5,"len":1.0},{"t":2011.745,"lat":74.0,"len":1.3},
{"t":2011.775,"lat":73.7,"len":0.7},{"t":2011.79,"lat":73.3,"len":0.9},{"t":2011.81,"lat":73.0,"len":1.0},{"t":2011.83,"lat":72.9,"len":0.8},{"t":2011.85,"lat":72.6,"len":0.8},{"t":2011.875,"lat":72.3,"len":0.8},{"t":2011.82,"lat":73.6,"len":0.9},{"t":2011.84,"lat":74.4,"len":0.9},
{"t":2011.535,"lat":75.5,"len":5},{"t":2011.545,"lat":75.0,"len":5},{"t":2011.555,"lat":74.6,"len":5},{"t":2011.57,"lat":74.1,"len":5},{"t":2011.59,"lat":74.0,"len":5},{"t":2011.61,"lat":74.0,"len":5},{"t":2011.72,"lat":73.9,"len":5},{"t":2011.745,"lat":73.9,"len":5},{"t":2011.765,"lat":74.1,"len":5},{"t":2011.785,"lat":74.3,"len":5},{"t":2011.805,"lat":74.4,"len":5},{"t":2011.825,"lat":74.7,"len":5},{"t":2011.84,"lat":75.0,"len":5},{"t":2011.855,"lat":75.4,"len":5},{"t":2011.87,"lat":75.4,"len":5},{"t":2011.88,"lat":75.0,"len":5},{"t":2011.895,"lat":74.7,"len":5},
{"t":2011.91,"lat":74.5,"len":5},{"t":2011.925,"lat":74.5,"len":5},{"t":2011.94,"lat":74.5,"len":0.8},{"t":2011.96,"lat":74.5,"len":5},{"t":2011.98,"lat":74.5,"len":5},{"t":2012.0,"lat":74.5,"len":5},{"t":2012.02,"lat":74.5,"len":5},{"t":2012.035,"lat":74.5,"len":0.8},{"t":2012.055,"lat":74.5,"len":0.8},{"t":2012.078,"lat":74.5,"len":0.5},{"t":2012.09,"lat":74.5,"len":0.5},{"t":2012.11,"lat":74.5,"len":5},{"t":2012.125,"lat":74.5,"len":5},{"t":2012.14,"lat":74.5,"len":5},{"t":2012.16,"lat":74.5,"len":5},{"t":2012.175,"lat":74.5,"len":5},{"t":2012.19,"lat":74.5,"len":5},{"t":2012.21,"lat":74.5,"len":5},{"t":2012.225,"lat":74.5,"len":5},{"t":2012.245,"lat":74.5,"len":5},{"t":2012.26,"lat":74.5,"len":5},{"t":2012.28,"lat":74.5,"len":0.6},{"t":2012.295,"lat":74.5,"len":5},{"t":2012.305,"lat":74.5,"len":5},{"t":2012.315,"lat":74.5,"len":5},{"t":2012.325,"lat":74.5,"len":5},{"t":2012.352,"lat":74.5,"len":0.7},{"t":2012.373,"lat":74.5,"len":5},{"t":2012.392,"lat":74.5,"len":0.8},{"t":2012.41,"lat":74.5,"len":0.8},{"t":2012.43,"lat":74.5,"len":0.8},{"t":2012.45,"lat":74.5,"len":0.8},{"t":2012.47,"lat":74.5,"len":5},{"t":2012.485,"lat":74.5,"len":5},{"t":2012.505,"lat":74.5,"len":0.8},{"t":2012.525,"lat":74.5,"len":0.8},{"t":2012.54,"lat":74.6,"len":5},{"t":2012.555,"lat":74.5,"len":5},{"t":2012.567,"lat":74.5,"len":5},{"t":2012.575,"lat":74.5,"len":5},
{"t":2012.258,"lat":72.8,"len":0.9},{"t":2012.278,"lat":72.8,"len":0.9},{"t":2012.298,"lat":72.8,"len":0.9},{"t":2012.318,"lat":72.8,"len":0.9},{"t":2012.338,"lat":72.8,"len":0.9},{"t":2012.358,"lat":72.8,"len":0.9},{"t":2012.378,"lat":72.8,"len":0.9},{"t":2012.398,"lat":72.8,"len":0.9},{"t":2012.418,"lat":72.8,"len":0.9},{"t":2012.438,"lat":72.8,"len":0.9},{"t":2012.458,"lat":72.8,"len":0.9},{"t":2012.478,"lat":72.8,"len":0.9},{"t":2012.498,"lat":72.8,"len":0.9},{"t":2012.518,"lat":72.8,"len":0.9},{"t":2012.538,"lat":72.7,"len":0.8},{"t":2012.555,"lat":72.8,"len":0.9},{"t":2012.57,"lat":72.5,"len":1.4},
{"t":2012.41,"lat":73.3,"len":1.6},{"t":2012.425,"lat":73.3,"len":1.5},{"t":2012.44,"lat":73.3,"len":1.6},{"t":2012.455,"lat":73.3,"len":1.5},{"t":2012.47,"lat":73.3,"len":1.6},{"t":2012.485,"lat":73.3,"len":1.6},{"t":2012.5,"lat":73.3,"len":1.5},{"t":2012.515,"lat":73.3,"len":1.6},{"t":2012.53,"lat":73.3,"len":1.5},{"t":2012.545,"lat":73.2,"len":1.6},{"t":2012.56,"lat":73.0,"len":1.4},
{"t":2011.875,"lat":71.4,"len":0.6},{"t":2011.89,"lat":71.4,"len":0.6},{"t":2011.905,"lat":71.4,"len":0.7},{"t":2011.92,"lat":71.4,"len":0.6},{"t":2011.935,"lat":71.4,"len":0.7},{"t":2011.95,"lat":71.4,"len":0.6},{"t":2011.965,"lat":71.4,"len":0.7},{"t":2011.98,"lat":71.4,"len":0.5},{"t":2011.99,"lat":71.4,"len":0.5},
{"t":2011.84,"lat":74.9,"len":0.9},{"t":2011.85,"lat":74.2,"len":1.0},{"t":2011.865,"lat":73.8,"len":1.7},{"t":2011.885,"lat":73.8,"len":1.6},{"t":2011.905,"lat":73.0,"len":1.6},{"t":2011.925,"lat":72.6,"len":1.0},{"t":2011.945,"lat":72.7,"len":1.8},{"t":2011.96,"lat":72.4,"len":1.8},{"t":2011.985,"lat":72.4,"len":1.8},{"t":2012.0,"lat":72.0,"len":1.0},{"t":2012.02,"lat":71.6,"len":1.0},{"t":2012.04,"lat":71.2,"len":1.0},{"t":2012.06,"lat":70.8,"len":1.0},{"t":2012.075,"lat":70.2,"len":1.1},{"t":2012.095,"lat":69.5,"len":1.3},{"t":2012.12,"lat":69.0,"len":1.4},{"t":2012.14,"lat":68.6,"len":1.5},{"t":2012.16,"lat":68.2,"len":1.5},{"t":2012.18,"lat":67.7,"len":1.6},{"t":2012.2,"lat":67.2,"len":1.4},{"t":2012.21,"lat":66.5,"len":1.6},{"t":2012.228,"lat":65.8,"len":1.4},{"t":2012.24,"lat":65.2,"len":1.4},{"t":2012.255,"lat":64.6,"len":1.4},{"t":2012.27,"lat":64.1,"len":1.5},{"t":2012.295,"lat":63.7,"len":1.4},{"t":2012.32,"lat":63.3,"len":1.4},{"t":2012.337,"lat":63.1,"len":1.5},{"t":2012.356,"lat":62.8,"len":1.6},{"t":2012.375,"lat":62.4,"len":1.7},{"t":2012.392,"lat":62.1,"len":0.9},{"t":2012.392,"lat":60.8,"len":2.0},{"t":2012.56,"lat":62.5,"len":1.6},{"t":2012.572,"lat":62.3,"len":1.6},
{"t":2012.08,"lat":70.2,"len":1.1},{"t":2012.1,"lat":70.2,"len":1.0},{"t":2012.12,"lat":70.2,"len":1.1},{"t":2012.14,"lat":70.2,"len":1.0},{"t":2012.16,"lat":70.2,"len":1.1},{"t":2012.18,"lat":70.2,"len":1.0},{"t":2012.2,"lat":70.2,"len":1.1},{"t":2012.22,"lat":70.2,"len":1.0},{"t":2012.25,"lat":70.2,"len":1.1},{"t":2012.27,"lat":70.2,"len":1.0},{"t":2012.29,"lat":70.2,"len":1.1},{"t":2012.31,"lat":70.2,"len":1.0},{"t":2012.33,"lat":70.2,"len":1.1},{"t":2012.35,"lat":70.2,"len":1.0},{"t":2012.37,"lat":70.2,"len":1.1},{"t":2012.39,"lat":70.2,"len":1.0},{"t":2012.41,"lat":70.2,"len":1.1},{"t":2012.43,"lat":70.2,"len":1.0},{"t":2012.45,"lat":70.1,"len":1.0},{"t":2012.49,"lat":70.0,"len":0.9},{"t":2012.51,"lat":69.2,"len":1.5},{"t":2012.53,"lat":69.2,"len":1.5},{"t":2012.55,"lat":69.2,"len":1.5},{"t":2012.57,"lat":69.2,"len":1.5},
{"t":2011.68,"lat":69.7,"len":5},{"t":2011.69,"lat":69.7,"len":5},{"t":2011.7,"lat":69.7,"len":5},{"t":2011.715,"lat":69.7,"len":5},{"t":2011.73,"lat":69.7,"len":5},{"t":2011.745,"lat":69.7,"len":5},{"t":2011.76,"lat":69.7,"len":5},{"t":2011.775,"lat":69.7,"len":5},{"t":2011.79,"lat":69.6,"len":2.9},{"t":2011.805,"lat":69.7,"len":5},{"t":2011.82,"lat":69.7,"len":5},{"t":2011.835,"lat":69.7,"len":5},{"t":2011.85,"lat":69.7,"len":5},{"t":2011.865,"lat":69.7,"len":5},{"t":2011.88,"lat":69.7,"len":5},{"t":2011.895,"lat":69.7,"len":5},{"t":2011.91,"lat":69.7,"len":5},{"t":2011.925,"lat":69.7,"len":5},{"t":2011.94,"lat":69.7,"len":5},{"t":2011.955,"lat":69.7,"len":5},{"t":2011.97,"lat":69.7,"len":5},{"t":2011.985,"lat":69.7,"len":5},{"t":2012.0,"lat":69.7,"len":5},{"t":2012.015,"lat":69.7,"len":5},{"t":2012.03,"lat":69.7,"len":5},{"t":2012.045,"lat":69.7,"len":5},{"t":2012.06,"lat":69.7,"len":5},{"t":2012.075,"lat":69.7,"len":5},{"t":2012.09,"lat":69.7,"len":5},{"t":2012.105,"lat":69.7,"len":5},{"t":2012.12,"lat":69.7,"len":5},{"t":2012.135,"lat":69.7,"len":5},{"t":2012.15,"lat":69.7,"len":5},{"t":2012.165,"lat":69.7,"len":5},{"t":2012.18,"lat":69.7,"len":5},{"t":2012.195,"lat":69.7,"len":5},{"t":2012.21,"lat":69.7,"len":5},{"t":2012.225,"lat":69.7,"len":5},{"t":2012.245,"lat":69.7,"len":5},{"t":2012.26,"lat":69.7,"len":5},{"t":2012.275,"lat":69.7,"len":5},{"t":2012.29,"lat":69.7,"len":5},{"t":2012.305,"lat":69.7,"len":5},{"t":2012.32,"lat":69.7,"len":5},{"t":2012.335,"lat":69.7,"len":5},{"t":2012.35,"lat":69.7,"len":5},{"t":2012.365,"lat":69.7,"len":5},{"t":2012.38,"lat":69.7,"len":5},{"t":2012.395,"lat":69.7,"len":5},{"t":2012.41,"lat":69.7,"len":5},{"t":2012.425,"lat":69.7,"len":5},{"t":2012.44,"lat":69.7,"len":5},{"t":2012.455,"lat":69.7,"len":5},{"t":2012.47,"lat":69.7,"len":5},{"t":2012.485,"lat":69.7,"len":5},{"t":2012.5,"lat":69.7,"len":5},{"t":2012.515,"lat":69.7,"len":5},{"t":2012.53,"lat":69.7,"len":5},{"t":2012.545,"lat":69.7,"len":5},{"t":2012.56,"lat":69.7,"len":5},{"t":2012.575,"lat":69.7,"len":5},
{"t":2011.805,"lat":69.4,"len":1.1},{"t":2011.82,"lat":69.4,"len":1.0},{"t":2011.84,"lat":69.4,"len":1.1},{"t":2011.86,"lat":69.4,"len":1.0},
{"t":2011.87,"lat":69.0,"len":0.9},{"t":2011.88,"lat":68.3,"len":1.0},{"t":2011.895,"lat":67.5,"len":0.9},{"t":2011.92,"lat":66.9,"len":0.9},{"t":2011.945,"lat":66.2,"len":0.9},{"t":2011.965,"lat":65.8,"len":0.9},{"t":2011.98,"lat":65.0,"len":0.9},{"t":2011.995,"lat":64.3,"len":0.9},{"t":2012.01,"lat":63.6,"len":0.9},{"t":2012.02,"lat":62.5,"len":0.9},{"t":2012.04,"lat":61.7,"len":0.8},{"t":2012.055,"lat":60.8,"len":0.8},{"t":2012.067,"lat":59.7,"len":0.9},{"t":2012.079,"lat":58.6,"len":0.9},{"t":2012.086,"lat":57.2,"len":0.8},{"t":2012.096,"lat":56.7,"len":0.8},{"t":2012.112,"lat":55.6,"len":0.6},{"t":2012.125,"lat":55.0,"len":0.7},{"t":2012.136,"lat":54.2,"len":0.8},{"t":2012.15,"lat":53.4,"len":0.8},{"t":2012.19,"lat":50.8,"len":0.7},{"t":2012.2,"lat":50.5,"len":0.8},{"t":2012.238,"lat":48.5,"len":0.7},{"t":2012.255,"lat":48.8,"len":0.7},{"t":2012.27,"lat":49.2,"len":0.8},{"t":2012.28,"lat":48.9,"len":0.7},{"t":2012.29,"lat":48.0,"len":0.7},{"t":2012.3,"lat":47.7,"len":0.8},{"t":2012.31,"lat":47.3,"len":0.7},{"t":2012.36,"lat":46.3,"len":0.4},
{"t":2011.9,"lat":67.7,"len":1.1},{"t":2011.93,"lat":67.3,"len":1.0},{"t":2011.96,"lat":67.3,"len":1.2},{"t":2011.99,"lat":67.3,"len":1.0},{"t":2012.02,"lat":67.3,"len":1.1},{"t":2012.05,"lat":67.3,"len":1.0},{"t":2012.08,"lat":67.3,"len":1.2},{"t":2012.11,"lat":67.3,"len":1.1},{"t":2012.14,"lat":67.3,"len":1.0},{"t":2012.17,"lat":67.3,"len":1.2},{"t":2012.2,"lat":67.3,"len":1.0},{"t":2012.24,"lat":67.3,"len":1.1},{"t":2012.26,"lat":67.4,"len":1.0},{"t":2012.28,"lat":67.3,"len":1.1},{"t":2012.32,"lat":67.3,"len":1.0},{"t":2012.36,"lat":67.3,"len":1.1},{"t":2012.4,"lat":67.3,"len":1.0},{"t":2012.44,"lat":67.3,"len":1.1},{"t":2012.48,"lat":67.3,"len":1.0},{"t":2012.515,"lat":67.3,"len":1.0},{"t":2012.56,"lat":67.3,"len":1.0},
{"t":2011.86,"lat":67.6,"len":2.4},{"t":2011.875,"lat":67.5,"len":2.5},{"t":2011.89,"lat":67.6,"len":2.3},{"t":2011.905,"lat":67.4,"len":1.7},{"t":2011.92,"lat":67.6,"len":1.0},{"t":2011.935,"lat":67.6,"len":1.3},{"t":2011.95,"lat":67.4,"len":1.2},{"t":2011.965,"lat":67.7,"len":1.6},{"t":2011.98,"lat":67.5,"len":1.0},{"t":2011.995,"lat":67.7,"len":1.3},{"t":2012.01,"lat":67.4,"len":1.3},{"t":2012.025,"lat":67.7,"len":1.5},{"t":2012.04,"lat":67.5,"len":1.0},{"t":2012.055,"lat":67.7,"len":1.4},{"t":2012.07,"lat":67.4,"len":1.2},{"t":2012.085,"lat":67.7,"len":1.5},{"t":2012.1,"lat":67.5,"len":1.1},{"t":2012.115,"lat":67.7,"len":1.3},{"t":2012.13,"lat":67.4,"len":1.2},{"t":2012.145,"lat":67.7,"len":1.6},{"t":2012.16,"lat":67.5,"len":1.1},{"t":2012.175,"lat":67.7,"len":1.4},{"t":2012.19,"lat":67.4,"len":1.3},{"t":2012.21,"lat":67.7,"len":1.4},{"t":2012.23,"lat":67.5,"len":1.0},{"t":2012.25,"lat":67.7,"len":1.1},{"t":2012.27,"lat":67.4,"len":1.2},{"t":2012.29,"lat":67.7,"len":1.0},{"t":2012.31,"lat":67.5,"len":1.2},{"t":2012.33,"lat":67.7,"len":1.4},{"t":2012.35,"lat":67.4,"len":1.0},{"t":2012.37,"lat":67.7,"len":1.3},{"t":2012.39,"lat":67.5,"len":1.1},{"t":2012.41,"lat":67.7,"len":1.0},{"t":2012.43,"lat":67.4,"len":1.2},{"t":2012.45,"lat":67.7,"len":1.4},{"t":2012.47,"lat":67.5,"len":1.0},{"t":2012.49,"lat":67.7,"len":1.2},{"t":2012.51,"lat":67.6,"len":1.0},{"t":2012.525,"lat":67.3,"len":0.9},{"t":2012.54,"lat":67.6,"len":1.0},{"t":2012.555,"lat":67.1,"len":0.9},{"t":2012.57,"lat":67.6,"len":1.0},{"t":2012.575,"lat":67.1,"len":0.9},
{"t":2011.895,"lat":66.9,"len":2.5},{"t":2011.91,"lat":66.4,"len":2.6},{"t":2011.93,"lat":66.3,"len":2.5},{"t":2011.945,"lat":66.1,"len":2.5},{"t":2011.96,"lat":66.0,"len":2.5},{"t":2011.975,"lat":65.7,"len":2.4},{"t":2011.99,"lat":65.35,"len":2.3},{"t":2012.005,"lat":65.35,"len":2.5},{"t":2012.02,"lat":65.35,"len":2.4},{"t":2012.035,"lat":65.35,"len":2.5},{"t":2012.05,"lat":65.35,"len":2.3},{"t":2012.07,"lat":65.35,"len":2.5},{"t":2012.09,"lat":65.35,"len":2.4},{"t":2012.11,"lat":65.35,"len":2.5},{"t":2012.13,"lat":65.35,"len":2.4},{"t":2012.15,"lat":65.35,"len":2.5},{"t":2012.17,"lat":65.35,"len":2.3},{"t":2012.19,"lat":65.35,"len":2.5},{"t":2012.21,"lat":65.35,"len":2.4},{"t":2012.23,"lat":65.35,"len":2.5},{"t":2012.25,"lat":65.35,"len":2.3},{"t":2012.27,"lat":65.35,"len":2.5},{"t":2012.29,"lat":65.35,"len":2.4},{"t":2012.31,"lat":65.35,"len":2.5},{"t":2012.33,"lat":65.35,"len":2.6},{"t":2012.35,"lat":65.35,"len":2.5},{"t":2012.37,"lat":65.35,"len":2.4},{"t":2012.39,"lat":65.35,"len":2.5},{"t":2012.41,"lat":65.35,"len":2.4},{"t":2012.43,"lat":65.35,"len":2.5},{"t":2012.45,"lat":65.35,"len":2.3},{"t":2012.47,"lat":65.35,"len":2.4},{"t":2012.485,"lat":65.35,"len":2.3},{"t":2012.5,"lat":65.3,"len":0.9},{"t":2012.515,"lat":65.3,"len":0.7},{"t":2012.53,"lat":65.3,"len":0.6},{"t":2012.545,"lat":65.3,"len":0.5},{"t":2012.56,"lat":65.3,"len":0.6},{"t":2012.572,"lat":65.3,"len":0.7},
{"t":2011.67,"lat":68.1,"len":2.9},{"t":2011.69,"lat":67.5,"len":2.9},{"t":2011.695,"lat":68.7,"len":1.0},{"t":2011.71,"lat":68.2,"len":1.0},{"t":2011.715,"lat":66.3,"len":1.3},{"t":2011.825,"lat":64.9,"len":0.8},{"t":2011.845,"lat":64.7,"len":0.7},{"t":2011.87,"lat":65.3,"len":0.8},{"t":2011.7,"lat":63.4,"len":0.5},
{"t":2010.7,"lat":80.0,"len":5},{"t":2010.706,"lat":79.6,"len":5},{"t":2010.712,"lat":79.2,"len":5},{"t":2010.72,"lat":78.9,"len":5},{"t":2010.725,"lat":78.4,"len":5},{"t":2010.733,"lat":78.2,"len":5},{"t":2010.74,"lat":77.9,"len":5},{"t":2010.745,"lat":77.6,"len":5},{"t":2010.755,"lat":77.2,"len":5},{"t":2010.775,"lat":76.6,"len":5},{"t":2010.79,"lat":76.4,"len":5},{"t":2010.805,"lat":76.0,"len":5},{"t":2010.83,"lat":75.8,"len":5},{"t":2010.85,"lat":75.7,"len":3.7},{"t":2010.865,"lat":75.2,"len":5},{"t":2010.88,"lat":75.6,"len":5},{"t":2010.76,"lat":79.4,"len":5},{"t":2010.755,"lat":79.0,"len":5},{"t":2010.76,"lat":78.6,"len":5},{"t":2010.768,"lat":78.1,"len":5},{"t":2010.715,"lat":79.6,"len":2.2},{"t":2010.745,"lat":79.9,"len":0.9},{"t":2010.72,"lat":77.6,"len":1.4},{"t":2010.74,"lat":77.4,"len":1.4},{"t":2010.75,"lat":76.0,"len":3.0},{"t":2010.7,"lat":78.3,"len":2.0},{"t":2010.79,"lat":77.0,"len":2.6},{"t":2010.82,"lat":76.5,"len":2.6},{"t":2010.925,"lat":75.8,"len":1.9},{"t":2010.92,"lat":75.2,"len":1.9},{"t":2011.025,"lat":74.2,"len":2.2},
{"t":2010.905,"lat":74.0,"len":5},{"t":2010.925,"lat":73.4,"len":5},{"t":2010.945,"lat":73.4,"len":5},{"t":2010.97,"lat":73.2,"len":5},{"t":2011.005,"lat":73.3,"len":4.9},
{"t":2011.08,"lat":71.8,"len":5},{"t":2011.1,"lat":71.4,"len":5},{"t":2011.12,"lat":70.9,"len":5},{"t":2011.08,"lat":70.8,"len":5},{"t":2011.1,"lat":70.2,"len":5},{"t":2011.11,"lat":69.7,"len":5},{"t":2011.13,"lat":68.8,"len":2.3},{"t":2011.14,"lat":68.4,"len":5},{"t":2011.155,"lat":67.8,"len":5},{"t":2011.15,"lat":67.3,"len":3.0},{"t":2011.1,"lat":69.2,"len":0.8},{"t":2011.118,"lat":68.6,"len":0.9},{"t":2011.12,"lat":68.0,"len":0.8},{"t":2011.13,"lat":67.5,"len":1.0},{"t":2011.145,"lat":67.0,"len":0.9},{"t":2011.205,"lat":65.0,"len":5},{"t":2011.215,"lat":64.8,"len":2.8}
]},"mark":{"type":"circle","size":62,"opacity":1,"stroke":"#333333","strokeWidth":0.7,"strokeOpacity":0.7},
"encoding":{"x":{"field":"t","type":"quantitative","axis":null},"y":{"field":"lat","type":"quantitative","axis":null},
"color":{"field":"len","type":"quantitative","scale":{"domain":[0.25,0.5,1,1.5,2,2.5,3,3.5,4,4.5,5],"range":["#f5ffff","#e0ffff","#90ffff","#6eecfa","#3cb4f0","#0a8cff","#0a66e0","#0a3cb0","#000a70","#00083a","#000014"]},
"legend":{"orient":"none","legendX":936,"legendY":0,"direction":"vertical","gradientLength":492,"gradientThickness":22,"gradientStrokeColor":"#aaa","gradientStrokeWidth":1,"values":[0.5,1,1.5,2,2.5,3,3.5,4,4.5,5],"format":"~g","labelFontSize":22,"labelColor":"#333","labelOffset":6,"labelOverlap":false,"title":null}}}}
]}
